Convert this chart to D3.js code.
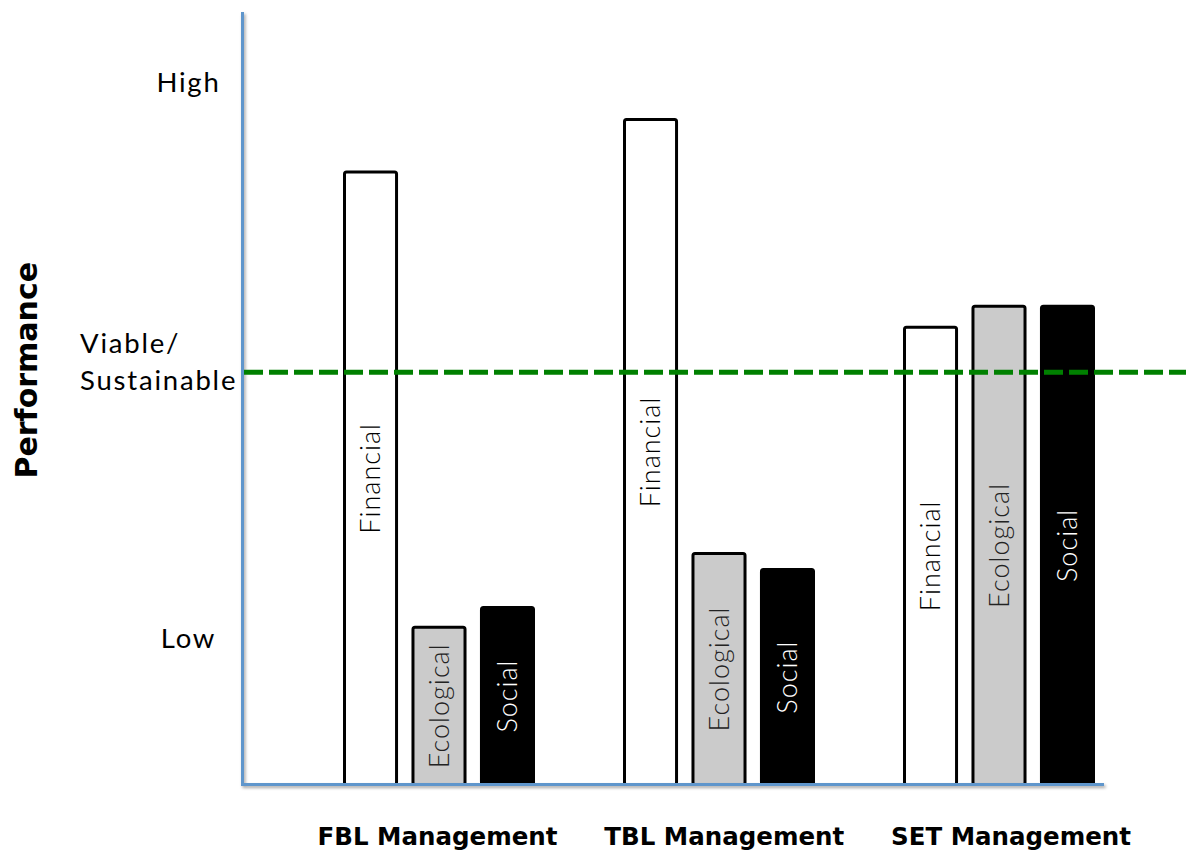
<!DOCTYPE html>
<html>
<head>
<meta charset="utf-8">
<script src="https://cdn.jsdelivr.net/npm/d3@7"></script>
<style>
  html, body { margin: 0; padding: 0; background: #ffffff; }
  svg { display: block; }
</style>
</head>
<body>
<svg id="chart" width="1193" height="852"></svg>
<script>
// Management approaches compared on three performance dimensions
const groups = ["FBL Management", "TBL Management", "SET Management"];
const dimensions = ["Financial", "Ecological", "Social"];

// Relative performance (0 = none, 100 = "High")
const financial = [87.2, 94.7, 65.1];
const ecological = [22.4, 32.9, 68.1];
const social = [25.2, 30.6, 68.1];

// Threshold for a viable / sustainable outcome
const viableLevel = 58.7;

// Qualitative labels on the performance axis
const levelLabels = ["Low", "Viable/|Sustainable", "High"];
const levelValues = [20.8, viableLevel, 100];

const series = { Financial: financial, Ecological: ecological, Social: social };
const rows = groups.map((g, i) => ({
  group: g,
  bars: dimensions.map(d => ({ dim: d, value: series[d][i] }))
}));

const fillColor = d3.scaleOrdinal().domain(dimensions).range(["#ffffff", "#cbcbcb", "#000000"]);
const textColor = d3.scaleOrdinal().domain(dimensions).range(["#000000", "#222222", "#ffffff"]);

const svg = d3.select("#chart");

// Scales
const y = d3.scaleLinear().domain([0, 110]).range([784.5, 12]);
const x0 = d3.scaleBand().domain(groups).range([299, 1139]).paddingInner(0.325).paddingOuter(0.1625);
const x1 = d3.scaleBand().domain(dimensions).range([0, x0.bandwidth()]).paddingInner(0.24).paddingOuter(0);
// Group captions sit on their own evenly spaced row under the axis
const xCaption = d3.scalePoint().domain(groups).range([437.5, 1011]);

const axisX = 242.5;
const axisRight = 1104;
const axisColor = "#5f96cc";

// Soft shadow under the axis lines
const defs = svg.append("defs");
const shadow = defs.append("filter").attr("id", "axisShadow")
  .attr("x", "-5%").attr("y", "-5%").attr("width", "110%").attr("height", "120%");
shadow.append("feDropShadow").attr("dx", 1.5).attr("dy", 2).attr("stdDeviation", 1.4)
  .attr("flood-color", "#000").attr("flood-opacity", 0.35);

// Bars
const barG = svg.append("g");
const grp = barG.selectAll("g.grp").data(rows).join("g")
  .attr("class", "grp")
  .attr("transform", d => `translate(${x0(d.group)},0)`);

grp.selectAll("rect").data(d => d.bars).join("rect")
  .attr("x", d => x1(d.dim))
  .attr("y", d => y(d.value))
  .attr("width", x1.bandwidth())
  .attr("height", d => y(0) - y(d.value))
  .attr("rx", 2)
  .attr("fill", d => fillColor(d.dim))
  .attr("stroke", "#000")
  .attr("stroke-width", 3);

// Axis lines
const axisG = svg.append("g").attr("filter", "url(#axisShadow)");
axisG.append("line")
  .attr("x1", axisX).attr("x2", axisRight)
  .attr("y1", y(0)).attr("y2", y(0))
  .attr("stroke", axisColor).attr("stroke-width", 3);
axisG.append("line")
  .attr("x1", axisX).attr("x2", axisX)
  .attr("y1", y(110)).attr("y2", y(0) + 1.5)
  .attr("stroke", axisColor).attr("stroke-width", 3);

// Viable / sustainable threshold
svg.append("line")
  .attr("x1", axisX + 1.5).attr("x2", 1186)
  .attr("y1", y(viableLevel)).attr("y2", y(viableLevel))
  .attr("stroke", "#008000")
  .attr("stroke-width", 5)
  .attr("stroke-dasharray", "19 6");

// Dimension names written up each bar
grp.selectAll("text").data(d => d.bars).join("text")
  .attr("transform", d => `translate(${x1(d.dim) + x1.bandwidth() / 2},${(y(d.value) + y(0)) / 2}) rotate(-90)`)
  .attr("text-anchor", "middle")
  .attr("dy", "0.36em")
  .attr("font-family", "Lato, sans-serif")
  .attr("font-weight", 300)
  .attr("font-size", 27)
  .attr("letter-spacing", 1)
  .attr("fill", d => textColor(d.dim))
  .text(d => d.dim);

// Qualitative level labels
const levelG = svg.append("g")
  .attr("font-family", "Lato, sans-serif")
  .attr("font-size", 27.5)
  .attr("letter-spacing", 1.8)
  .attr("fill", "#000");

levelLabels.forEach((lab, i) => {
  const yy = y(levelValues[i]);
  const lines = lab.split("|");
  if (lines.length === 1) {
    levelG.append("text")
      .attr("x", axisX - 54)
      .attr("y", yy)
      .attr("dy", "0.36em")
      .attr("text-anchor", "middle")
      .text(lab);
  } else {
    const t = levelG.append("text").attr("x", 80).attr("text-anchor", "start");
    t.append("tspan").attr("x", 80).attr("y", yy - 19).text(lines[0]);
    t.append("tspan").attr("x", 80).attr("y", yy + 18).text(lines[1]);
  }
});

// Axis title
svg.append("text")
  .attr("transform", `translate(37,${(y(110) + y(0)) / 2 - 28}) rotate(-90)`)
  .attr("text-anchor", "middle")
  .attr("font-family", "'DejaVu Sans', sans-serif")
  .attr("font-weight", "bold")
  .attr("font-size", 30)
  .attr("fill", "#000")
  .text("Performance");

// Category labels
svg.append("g").selectAll("text").data(groups).join("text")
  .attr("x", d => xCaption(d))
  .attr("y", 845)
  .attr("text-anchor", "middle")
  .attr("font-family", "'DejaVu Sans', sans-serif")
  .attr("font-weight", "bold")
  .attr("font-size", 24.5)
  .attr("fill", "#000")
  .text(d => d);
</script>
</body>
</html>
